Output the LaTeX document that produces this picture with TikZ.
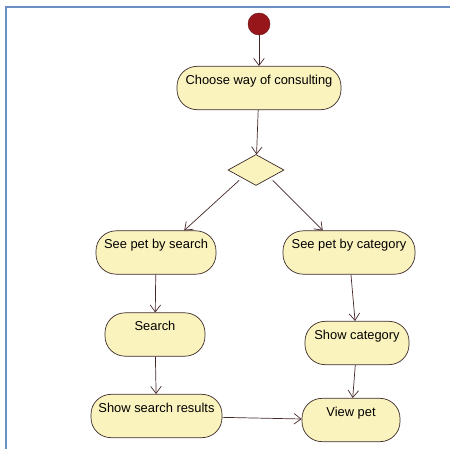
\documentclass[tikz,border=0pt]{standalone}
\usepackage{fontspec}
\setmainfont{Liberation Sans}
\definecolor{act_fill}{RGB}{251, 243, 190}
\definecolor{act_line}{RGB}{60, 43, 43}
\definecolor{flow_line}{RGB}{70, 40, 40}
\definecolor{start_red}{RGB}{150, 22, 26}
\definecolor{frame_blue}{RGB}{107, 143, 196}
\usetikzlibrary{arrows.meta, shapes.geometric}

\begin{document}
\begin{tikzpicture}[x=0.03cm, y=-0.03cm,
    every node/.style={font=\fontsize{11}{13}\selectfont},
    activity/.style={draw=act_line, fill=act_fill, rounded corners=0.6cm,
      line width=0.6pt, inner sep=0pt, text height=0.54cm, text depth=0.76cm},
    decision/.style={diamond, draw=act_line, fill=act_fill, aspect=1.8,
      line width=0.6pt, inner sep=0pt, minimum width=1.68cm, minimum height=0.93cm},
    flow/.style={draw=flow_line, line width=0.6pt,
      -{Straight Barb[length=6pt,width=9pt]}}]
  \useasboundingbox (0,0) rectangle (450,449);

  % Cadre
  \draw[frame_blue, line width=1.5pt] (6,449) -- (6,7) -- (450,7);

  % Debut et choix
  \node[circle, fill=start_red, draw=start_red!70!black, minimum size=0.66cm,
    inner sep=0pt] (start) at (259,24) {};
  \node[activity, minimum width=4.92cm] (choose) at (259,88) {Choose way of consulting};
  \node[decision] (choice) at (256,170) {};

  % Branche gauche
  \node[activity, minimum width=3.6cm] (bysearch) at (156,252.5) {See pet by search};
  \node[activity, minimum width=3cm] (search) at (155,334.5) {Search};
  \node[activity, minimum width=3.93cm] (results) at (156.5,416) {Show search results};

  % Branche droite
  \node[activity, minimum width=3.96cm] (bycategory) at (349,252.5) {See pet by category};
  \node[activity, minimum width=3.12cm] (category) at (357,343) {Show category};
  \node[activity, minimum width=2.94cm] (viewpet) at (351,420) {View pet};

  % Transitions
  \draw[flow] (start) -- (choose);
  \draw[flow] (choose) -- (choice);
  \draw[flow, shorten <=3pt] (choice.south west) -- (bysearch.38);
  \draw[flow, shorten <=3pt] (choice.south east) -- (bycategory.140);
  \draw[flow] (bysearch) -- (search);
  \draw[flow] (search) -- (results);
  \draw[flow] (bycategory) -- (category);
  \draw[flow] (category) -- (viewpet);
  \draw[flow] (results) -- (viewpet);
\end{tikzpicture}
\end{document}
